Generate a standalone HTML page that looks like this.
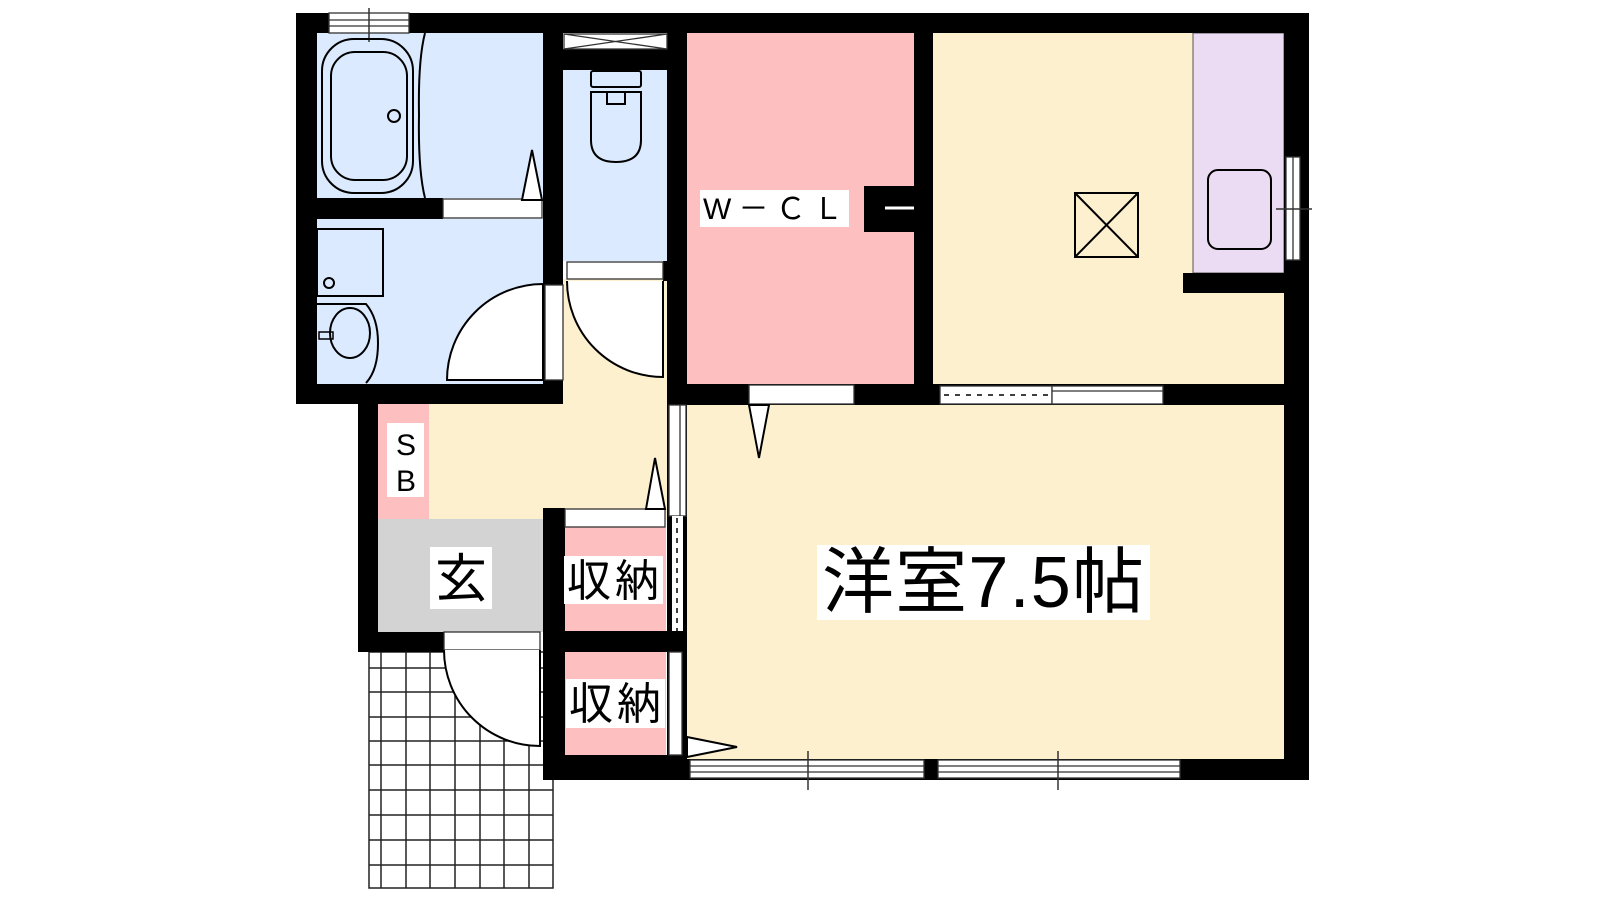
<!DOCTYPE html>
<html><head><meta charset="utf-8"><style>
html,body{margin:0;padding:0;background:#fff;width:1600px;height:900px;overflow:hidden}
svg{display:block}
text{font-family:"Liberation Sans","Noto Sans CJK JP",sans-serif}
</style></head><body>
<svg width="1600" height="900" viewBox="0 0 1600 900" xmlns="http://www.w3.org/2000/svg">
<g stroke="#222" stroke-width="1.5" fill="none">
<rect x="369" y="652" width="184" height="236" fill="#fff"/>
<line x1="381" y1="652" x2="381" y2="888"/><line x1="406" y1="652" x2="406" y2="888"/><line x1="430" y1="652" x2="430" y2="888"/><line x1="455" y1="652" x2="455" y2="888"/><line x1="480" y1="652" x2="480" y2="888"/><line x1="504" y1="652" x2="504" y2="888"/><line x1="529" y1="652" x2="529" y2="888"/>
<line x1="369" y1="668" x2="553" y2="668"/><line x1="369" y1="692" x2="553" y2="692"/><line x1="369" y1="717" x2="553" y2="717"/><line x1="369" y1="741" x2="553" y2="741"/><line x1="369" y1="765" x2="553" y2="765"/><line x1="369" y1="790" x2="553" y2="790"/><line x1="369" y1="815" x2="553" y2="815"/><line x1="369" y1="840" x2="553" y2="840"/><line x1="369" y1="865" x2="553" y2="865"/>
</g>
<rect x="317" y="33" width="226" height="165" fill="#dbeafe"/>
<rect x="317" y="219" width="226" height="165" fill="#dbeafe"/>
<rect x="563" y="70" width="104" height="191" fill="#dbeafe"/>
<rect x="563" y="279" width="104" height="130" fill="#fdf0cf"/>
<rect x="429" y="404" width="240" height="116" fill="#fdf0cf"/>
<rect x="378" y="404" width="51" height="115" fill="#fdbfbf"/>
<rect x="378" y="519" width="165" height="113" fill="#d3d3d3"/>
<rect x="565" y="527" width="101" height="104" fill="#fdbfbf"/>
<rect x="565" y="652" width="101" height="103" fill="#fdbfbf"/>
<rect x="687" y="33" width="227" height="352" fill="#fdbfbf"/>
<rect x="933" y="33" width="351" height="352" fill="#fdf0cf"/>
<rect x="1193" y="33" width="91" height="240" fill="#ebdcf3" stroke="#555" stroke-width="1"/>
<rect x="687" y="404" width="597" height="356" fill="#fdf0cf"/>
<g fill="#000">
<rect x="296" y="13" width="1013" height="20"/>
<rect x="296" y="13" width="21" height="391"/>
<rect x="296" y="384" width="267" height="20"/>
<rect x="317" y="198" width="126" height="21"/>
<rect x="543" y="13" width="20" height="391"/>
<rect x="563" y="49" width="104" height="21"/>
<rect x="663" y="261" width="4" height="20"/>
<rect x="667" y="13" width="20" height="392"/>
<rect x="914" y="13" width="19" height="392"/>
<rect x="667" y="384" width="642" height="21"/>
<rect x="864" y="186" width="50" height="46"/>
<rect x="1183" y="273" width="101" height="20"/>
<rect x="1284" y="13" width="25" height="767"/>
<rect x="358" y="384" width="20" height="268"/>
<rect x="358" y="632" width="86" height="20"/>
<rect x="543" y="508" width="22" height="268"/>
<rect x="543" y="631" width="144" height="21"/>
<rect x="543" y="755" width="144" height="25"/>
<rect x="667" y="405" width="20" height="355"/>
<rect x="687" y="759" width="622" height="21"/>
</g>
<g fill="#fff" stroke="#333" stroke-width="1.3">
<rect x="329" y="13" width="80" height="20"/><line x1="329" y1="20" x2="409" y2="20"/><line x1="329" y1="26" x2="409" y2="26"/>
<rect x="564" y="34" width="103" height="15"/><line x1="564" y1="34" x2="667" y2="49"/><line x1="564" y1="49" x2="667" y2="34"/>
<rect x="443" y="199" width="99" height="19"/>
<rect x="567" y="262" width="96" height="17"/>
<rect x="545" y="285" width="18" height="95"/>
<rect x="749" y="385" width="105" height="19"/>
<rect x="940" y="386" width="112" height="18"/><rect x="1052" y="386" width="111" height="18"/><line x1="1052" y1="391" x2="1163" y2="391"/>
<rect x="669" y="405" width="17" height="111"/><line x1="680" y1="405" x2="680" y2="516"/>
<rect x="565" y="509" width="100" height="18"/>
<rect x="669" y="652" width="13" height="103"/>
<rect x="444" y="632" width="96" height="18"/>
<rect x="690" y="760" width="234" height="18"/><line x1="690" y1="766" x2="924" y2="766"/><line x1="690" y1="772" x2="924" y2="772"/>
<rect x="938" y="760" width="242" height="18"/><line x1="938" y1="766" x2="1180" y2="766"/><line x1="938" y1="772" x2="1180" y2="772"/>
<rect x="1286" y="157" width="14" height="103"/><line x1="1293" y1="157" x2="1293" y2="260"/>
</g>
<line x1="369" y1="8" x2="369" y2="42" stroke="#333" stroke-width="1.5"/>
<line x1="808" y1="751" x2="808" y2="790" stroke="#333" stroke-width="1.5"/>
<line x1="1058" y1="751" x2="1058" y2="790" stroke="#333" stroke-width="1.5"/>
<line x1="1276" y1="209" x2="1312" y2="209" stroke="#333" stroke-width="1.5"/>
<line x1="944" y1="395" x2="1050" y2="395" stroke="#000" stroke-width="1.5" stroke-dasharray="5,6"/>
<rect x="672" y="516" width="11" height="115" fill="#fff"/>
<line x1="677" y1="518" x2="677" y2="631" stroke="#000" stroke-width="1.5" stroke-dasharray="5,5"/>
<line x1="885" y1="208" x2="914" y2="208" stroke="#fff" stroke-width="3"/>
<g fill="#fff" stroke="#000" stroke-width="2">
<path d="M447 380 A96 96 0 0 1 543 284 L543 380 Z"/>
<path d="M567 281 A96 96 0 0 0 663 377 L663 281"/>
<path d="M444 650 A96 96 0 0 0 540 746 L540 650"/>
<path d="M522 200 L532 150 L542 200 Z"/>
<path d="M646 509 L655 458 L665 509 Z"/>
<path d="M749 405 L759 458 L769 405 Z"/>
<path d="M687 737 L737 747 L687 757 Z"/>
</g>
<g fill="none" stroke="#000" stroke-width="2">
<rect x="322" y="39" width="91" height="154" rx="32"/>
<rect x="331" y="52" width="76" height="128" rx="24"/>
<circle cx="394" cy="116" r="6"/>
<path d="M425 33 Q418 60 419 115 Q418 170 425 198"/>
<rect x="591" y="71" width="50" height="16" rx="2"/>
<path d="M591 92 L641 92 L641 140 Q641 162 616 162 Q591 162 591 140 Z"/>
<path d="M607 92 v12 h18 v-12"/>
<rect x="317" y="229" width="66" height="67"/>
<circle cx="329" cy="283" r="5"/>
<path d="M317 304 L366 304 Q378 318 378 343 Q378 370 366 383"/>
<ellipse cx="350" cy="333" rx="20" ry="25"/>
<rect x="319" y="332" width="14" height="7" stroke-width="1.5"/>
<rect x="1075" y="193" width="63" height="64"/>
<line x1="1075" y1="193" x2="1138" y2="257"/><line x1="1138" y1="193" x2="1075" y2="257"/>
<rect x="1208" y="170" width="63" height="79" rx="10"/>
</g>
<rect x="387" y="423" width="37" height="74" fill="#fff"/>
<text x="406" y="455" font-size="30" text-anchor="middle">S</text>
<text x="406" y="491" font-size="30" text-anchor="middle">B</text>
<rect x="430" y="547" width="62" height="62" fill="#fff"/>
<text x="461" y="597" font-size="52" text-anchor="middle">玄</text>
<rect x="564" y="556" width="99" height="48" fill="#fff"/>
<text x="613" y="596" font-size="44" text-anchor="middle" textLength="92">収納</text>
<rect x="566" y="679" width="99" height="49" fill="#fff"/>
<text x="615" y="719" font-size="44" text-anchor="middle" textLength="92">収納</text>
<rect x="700" y="190" width="149" height="37" fill="#fff"/>
<text x="703" y="219" font-size="30" textLength="140">W－ＣＬ</text>
<rect x="817" y="545" width="333" height="75" fill="#fff"/>
<text x="822" y="607" font-size="72" textLength="322">洋室7.5帖</text>
</svg>
</body></html>
